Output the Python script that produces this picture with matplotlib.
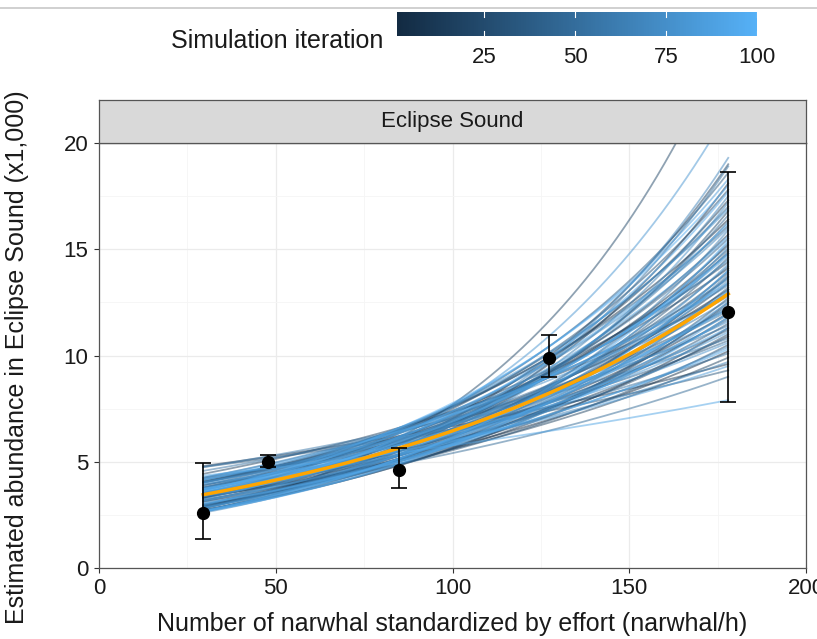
import numpy as np
import matplotlib
matplotlib.use("Agg")
import matplotlib.pyplot as plt
from matplotlib.colors import LinearSegmentedColormap, Normalize
from matplotlib.lines import Line2D

plt.rcParams['font.family'] = ['Liberation Sans', 'DejaVu Sans']

# observed abundance estimates with their intervals
obs_x = [29.5, 47.8, 85.0, 127.3, 178.0]
obs_y = [2.6, 5.0, 4.6, 9.9, 12.05]
obs_lo = [1.37, 4.75, 3.76, 9.0, 7.8]
obs_hi = [4.95, 5.33, 5.64, 10.95, 18.65]

# fitted curves per simulation iteration: value at first and last x
curve_x0, curve_x1 = 29.5, 178.0
iter_start = [3.79, 3.36, 3.76, 3.45, 3.67, 2.97, 2.82, 4.80, 3.00, 3.33,
              2.74, 3.28, 3.51, 4.03, 3.15, 2.86, 4.43, 3.35, 3.33, 3.30,
              2.65, 3.21, 4.06, 2.82, 4.12, 3.11, 3.30, 3.43, 3.33, 3.35,
              2.72, 4.75, 2.95, 3.41, 2.94, 3.91, 3.87, 2.93, 4.19, 3.19,
              3.43, 2.91, 3.67, 3.51, 4.01, 3.41, 2.97, 4.03, 2.85, 4.25,
              2.65, 4.06, 2.87, 4.57, 2.87, 3.13, 4.75, 2.72, 3.80, 2.82,
              4.02, 2.60, 4.25, 3.92, 3.72, 2.65, 3.55, 3.66, 3.53, 3.57,
              2.70, 4.16, 2.67, 4.25, 2.81, 4.04, 3.77, 2.84, 2.95, 3.70,
              3.54, 3.05, 3.52, 3.97, 3.56, 2.65, 3.73, 3.63, 3.17, 4.35,
              2.65, 3.24, 3.63, 4.15, 2.69, 3.72, 3.63, 3.02, 3.45, 3.36]
iter_end = [13.1, 10.2, 16.4, 12.0, 14.8, 11.3, 18.1, 9.6, 13.7, 15.2,
            12.5, 17.3, 10.9, 14.1, 11.8, 19.0, 12.9, 9.9, 15.7, 13.4,
            25.0, 11.0, 14.4, 16.8, 12.2, 10.5, 13.9, 17.8, 11.5, 15.0,
            12.7, 9.3, 14.6, 18.6, 13.2, 11.2, 16.1, 12.4, 10.7, 14.2,
            15.5, 13.0, 17.0, 11.7, 12.8, 9.0, 16.6, 13.6, 14.9, 10.1,
            18.9, 12.1, 15.3, 11.4, 13.8, 16.3, 10.8, 14.0, 12.6, 17.5,
            11.9, 15.9, 13.3, 9.7, 14.5, 19.3, 12.3, 16.0, 10.4, 13.5,
            15.1, 11.6, 17.2, 12.9, 14.3, 10.6, 16.9, 13.1, 21.5, 11.1,
            14.7, 12.0, 18.3, 9.5, 15.6, 13.7, 11.3, 16.2, 12.5, 7.9,
            14.0, 17.7, 10.3, 13.4, 15.4, 12.2, 18.0, 11.8, 14.8, 13.0]
mean_start, mean_end = 3.45, 12.9

cb_ticks = [25, 50, 75, 100]

W, H = 817, 639
cmap = LinearSegmentedColormap.from_list('gg', ['#132B43', '#56B1F7'])
norm = Normalize(1, 100)
FS_T = 18   # titles
FS = 16     # tick labels, strip, legend labels
TXT = '#1A1A1A'

fig = plt.figure(figsize=(W / 100, H / 100), dpi=100)

# main panel
ax = fig.add_axes([99 / W, 1 - 568 / H, 707 / W, 425 / H])
xs = np.linspace(curve_x0, curve_x1, 200)
t = (xs - curve_x0) / (curve_x1 - curve_x0)
for i, (s, e) in enumerate(zip(iter_start, iter_end), start=1):
    ax.plot(xs, s * (e / s) ** t, color=cmap(norm(i)), alpha=0.5, lw=1.3, zorder=2)
ax.plot(xs, mean_start * (mean_end / mean_start) ** t, color='orange', lw=2.5, zorder=3)

y = np.array(obs_y)
yerr = [y - np.array(obs_lo), np.array(obs_hi) - y]
ax.errorbar(obs_x, obs_y, yerr=yerr, fmt='o', color='black', ms=8.5,
            capsize=6, elinewidth=1.2, capthick=1.2, zorder=4)

ax.set_xlim(0, 200)
ax.set_ylim(0, 20)
ax.set_xticks([0, 50, 100, 150, 200])
ax.set_yticks([0, 5, 10, 15, 20])
ax.set_xticks([25, 75, 125, 175], minor=True)
ax.set_yticks([2.5, 7.5, 12.5, 17.5], minor=True)
ax.grid(which='major', color='#EBEBEB', lw=0.9)
ax.grid(which='minor', color='#F5F5F5', lw=0.6)
ax.set_axisbelow(True)
ax.tick_params(which='major', length=3.5, width=0.8, color='#333333',
               labelsize=FS, labelcolor=TXT, pad=4)
ax.tick_params(which='minor', length=0)
for sp in ax.spines.values():
    sp.set_color('#555555')
    sp.set_linewidth(0.9)

fig.text(452 / W, 1 - 624 / H, 'Number of narwhal standardized by effort (narwhal/h)',
         ha='center', va='center', fontsize=FS_T, color=TXT)
fig.text(17 / W, 1 - 357 / H, 'Estimated abundance in Eclipse Sound (x1,000)',
         ha='center', va='center', rotation=90, fontsize=FS_T, color=TXT)

# facet strip
sax = fig.add_axes([99 / W, 1 - 143 / H, 707 / W, 43 / H])
sax.set_facecolor('#D9D9D9')
sax.set_xticks([])
sax.set_yticks([])
for sp in sax.spines.values():
    sp.set_color('#555555')
    sp.set_linewidth(0.9)
sax.text(0.5, 0.5, 'Eclipse Sound', ha='center', va='center', fontsize=FS,
         color=TXT, transform=sax.transAxes)

# colour bar legend
cax = fig.add_axes([397 / W, 1 - 36 / H, 360 / W, 24 / H])
grad = np.linspace(1, 100, 300).reshape(1, -1)
cax.imshow(grad, cmap=cmap, norm=norm, aspect='auto', extent=[1, 100, 0, 1])
cax.set_xlim(1, 100)
cax.set_ylim(0, 1)
for v in cb_ticks:
    cax.plot([v, v], [0, 0.2], color='white', lw=0.8)
    cax.plot([v, v], [0.8, 1], color='white', lw=0.8)
cax.set_xticks(cb_ticks)
cax.set_yticks([])
cax.tick_params(length=0, labelsize=FS, labelcolor=TXT, pad=8)
for sp in cax.spines.values():
    sp.set_visible(False)
fig.text(383 / W, 1 - 41 / H, 'Simulation iteration', ha='right', va='center',
         fontsize=FS_T, color=TXT)

fig.add_artist(Line2D([0, 1], [1 - 8 / H, 1 - 8 / H], color='#C8C8C8', lw=1.2))

fig.savefig('out.png', dpi=100)
